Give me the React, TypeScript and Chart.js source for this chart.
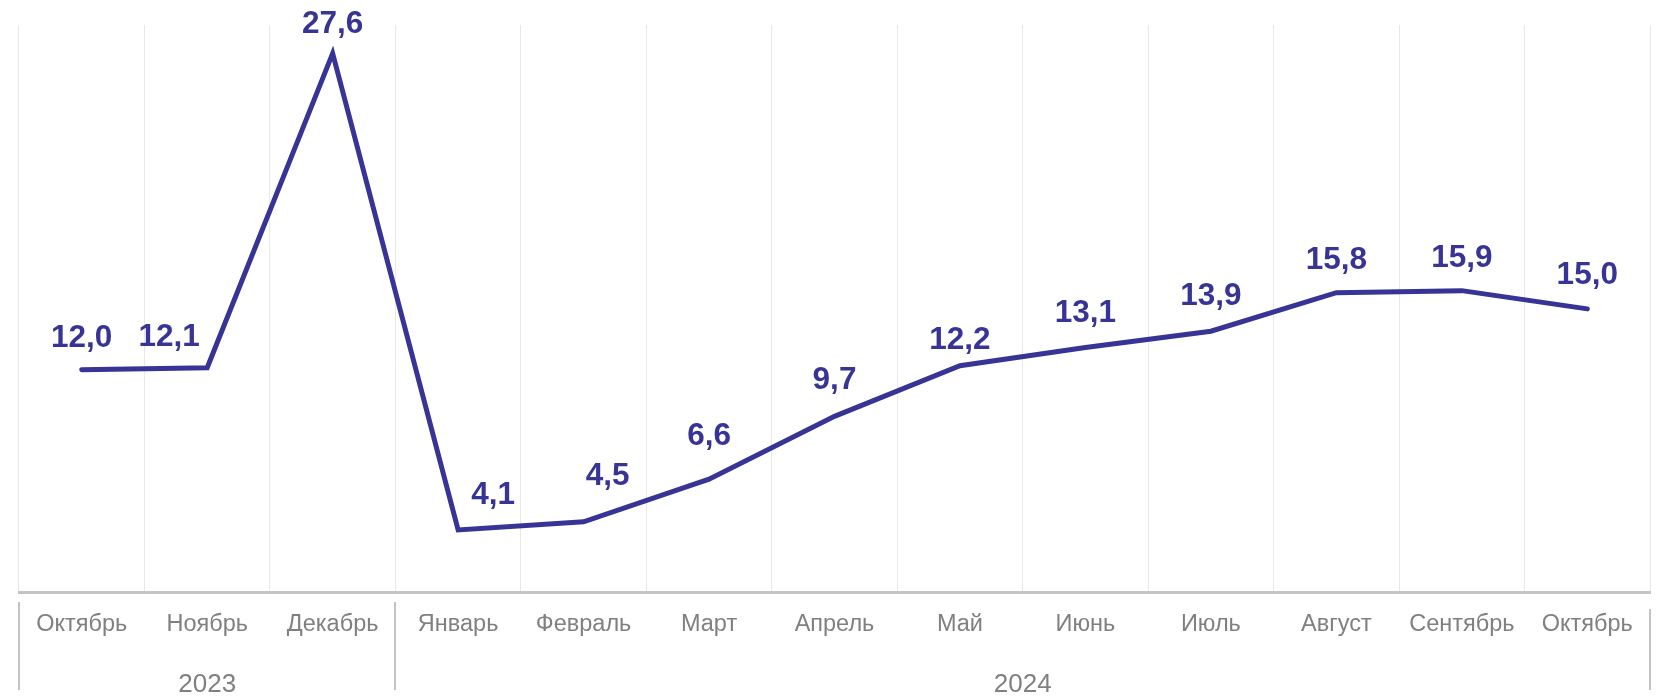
import React, { useEffect, useRef } from "react";
import { Chart, registerables } from "chart.js";

Chart.register(...registerables);

const months = [
  "Октябрь", "Ноябрь", "Декабрь", "Январь", "Февраль", "Март", "Апрель",
  "Май", "Июнь", "Июль", "Август", "Сентябрь", "Октябрь",
];
const values = [12.0, 12.1, 27.6, 4.1, 4.5, 6.6, 9.7, 12.2, 13.1, 13.9, 15.8, 15.9, 15.0];
const years = ["2023", "2024"];
const yearSpans = [3, 10];
// label nudges (px) relative to each point
const labelDx = [0, -38, 0, 35, 24, 0, 0, 0, 0, 0, 0, 0, 0];
const labelDy = [-34, -33, -31, -37, -48, -45, -38, -28, -36, -37, -35, -35, -36];

const LINE_COLOR = "#383496";
const FONT = "'Liberation Sans', Arial, sans-serif";

const fmt = (v: number) => v.toFixed(1).replace(".", ",");

const labelsPlugin = {
  id: "valueLabels",
  afterDatasetsDraw(chart: any) {
    const ctx = chart.ctx;
    const meta = chart.getDatasetMeta(0);
    ctx.save();
    ctx.font = `bold 31.5px ${FONT}`;
    ctx.fillStyle = LINE_COLOR;
    ctx.textAlign = "center";
    ctx.textBaseline = "alphabetic";
    meta.data.forEach((pt: any, i: number) => {
      ctx.fillText(fmt(values[i]), pt.x + labelDx[i], pt.y + labelDy[i] + 11);
    });
    ctx.restore();
  },
};

const yearPlugin = {
  id: "yearGroups",
  afterDraw(chart: any) {
    const ctx = chart.ctx;
    const x = chart.scales.x;
    const half = (x.getPixelForValue(1) - x.getPixelForValue(0)) / 2;
    ctx.save();
    ctx.strokeStyle = "#c4c4c4";
    ctx.lineWidth = 2;
    ctx.font = `26px ${FONT}`;
    ctx.fillStyle = "#808080";
    ctx.textAlign = "center";
    ctx.textBaseline = "alphabetic";
    let start = 0;
    const bounds: number[] = [];
    years.forEach((yr, gi) => {
      const end = start + yearSpans[gi] - 1;
      const left = x.getPixelForValue(start) - half;
      const right = x.getPixelForValue(end) + half;
      if (gi === 0) bounds.push(left);
      bounds.push(right);
      ctx.fillText(yr, (left + right) / 2, 692);
      start = end + 1;
    });
    bounds.forEach((bx, i) => {
      ctx.beginPath();
      const top = i === bounds.length - 1 ? 609 : 602;
      ctx.moveTo(Math.round(bx), top);
      ctx.lineTo(Math.round(bx), 690);
      ctx.stroke();
    });
    ctx.restore();
  },
};

export default function App() {
  const ref = useRef<HTMLCanvasElement | null>(null);
  useEffect(() => {
    if (!ref.current) return;
    const chart = new Chart(ref.current, {
      type: "line",
      data: {
        labels: months,
        datasets: [
          {
            data: values,
            borderColor: LINE_COLOR,
            borderWidth: 5,
            pointRadius: 0,
            tension: 0,
            borderCapStyle: "round",
            borderJoinStyle: "miter",
          },
        ],
      },
      options: {
        animation: false,
        responsive: false,
        maintainAspectRatio: false,
        layout: { padding: { left: 19, right: 11, top: 25, bottom: 39 } },
        plugins: { legend: { display: false }, tooltip: { enabled: false } },
        scales: {
          x: {
            offset: true,
            grid: { offset: true, color: "#e8e8e8", lineWidth: 1, drawTicks: false },
            border: { display: true, color: "#c4c4c4", width: 3 },
            ticks: {
              color: "#808080",
              font: { family: FONT, size: 23.5 },
              padding: 18,
              maxRotation: 0,
              autoSkip: false,
            },
          },
          y: { display: false, min: 1, max: 29 },
        },
      },
      plugins: [labelsPlugin, yearPlugin],
    });
    return () => chart.destroy();
  }, []);
  return (
    <div style={{ position: "absolute", left: 0, top: 0, width: 1661, height: 696, background: "#fff" }}>
      <canvas ref={ref} width={1661} height={696} />
    </div>
  );
}
